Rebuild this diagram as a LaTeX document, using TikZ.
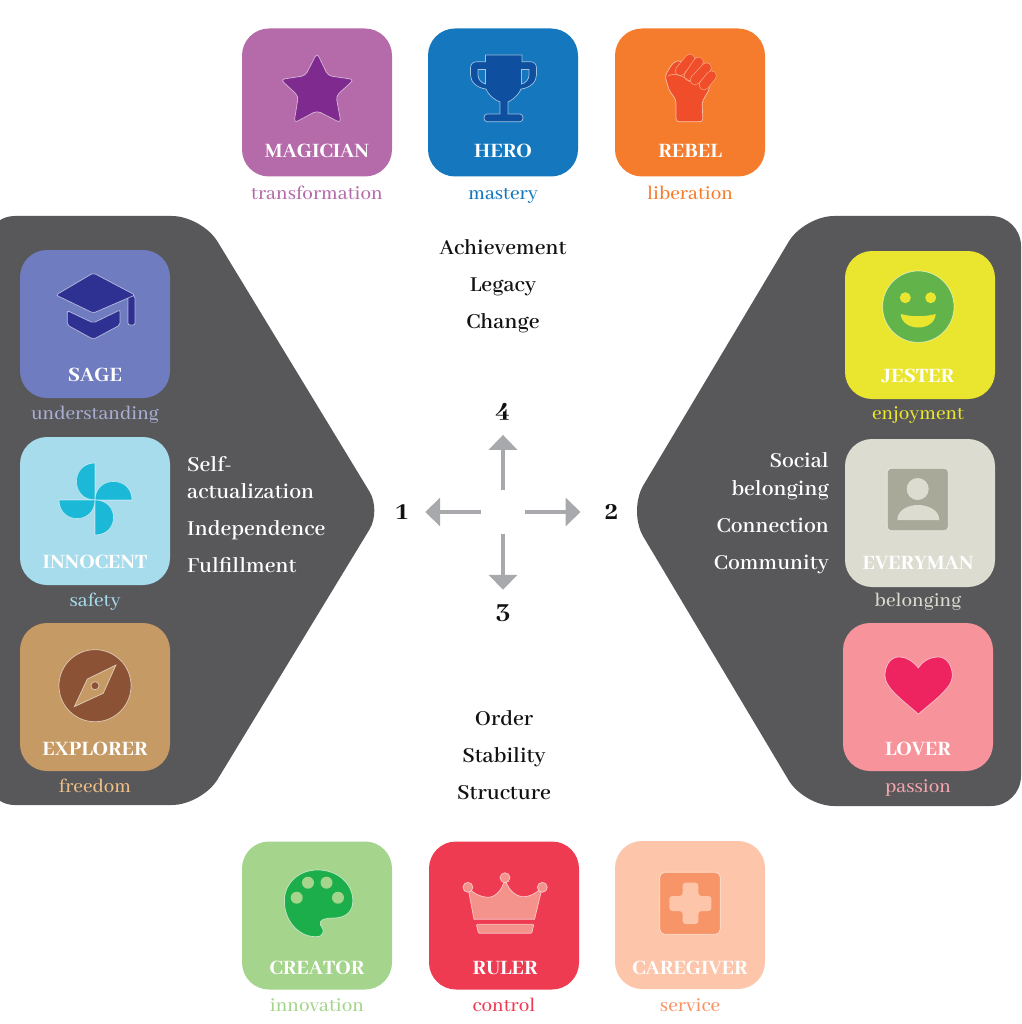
\documentclass[tikz,border=0pt]{standalone}
\usepackage{fontspec}
\setmainfont{Abhaya Libre}[BoldFont={Abhaya Libre ExtraBold}]
\newfontfamily\capfont{Abhaya Libre Medium}
\newfontfamily\wordfont{Abhaya Libre SemiBold}
\usepackage{tikz}
\usetikzlibrary{arrows.meta}

\definecolor{hexc}{HTML}{58585A}
\definecolor{arrc}{HTML}{A7A9AC}
\definecolor{inkc}{HTML}{111111}
\definecolor{magicc}{HTML}{B56BAA}
\definecolor{starc}{HTML}{7F2A8E}
\definecolor{heroc}{HTML}{1578BE}
\definecolor{cupc}{HTML}{0F4FA0}
\definecolor{rebelc}{HTML}{F57C2C}
\definecolor{fistc}{HTML}{F04E2B}
\definecolor{fistlinec}{HTML}{F8A47E}
\definecolor{sagec}{HTML}{6F7CBF}
\definecolor{sagecapc}{HTML}{A9AED3}
\definecolor{hatc}{HTML}{2E3192}
\definecolor{innoc}{HTML}{A6DCEC}
\definecolor{windc}{HTML}{1CB8D8}
\definecolor{explc}{HTML}{C69A64}
\definecolor{explcapc}{HTML}{EDBE85}
\definecolor{compc}{HTML}{8B5235}
\definecolor{jestc}{HTML}{EAE630}
\definecolor{facec}{HTML}{62B34A}
\definecolor{everyc}{HTML}{DCDDD0}
\definecolor{personc}{HTML}{A8A998}
\definecolor{lovec}{HTML}{F6939B}
\definecolor{lovecapc}{HTML}{F6A5AE}
\definecolor{heartc}{HTML}{EE2460}
\definecolor{creac}{HTML}{A5D48C}
\definecolor{palc}{HTML}{1BAE4B}
\definecolor{rulec}{HTML}{EF3B52}
\definecolor{crownc}{HTML}{F4938B}
\definecolor{carec}{HTML}{FDC6AB}
\definecolor{plusc}{HTML}{F79468}

\begin{document}
\begin{tikzpicture}[
  x=1pt, y=-1pt,
  hexa/.style={fill=hexc},
  tile/.style={
    rectangle, rounded corners=27pt, inner sep=0pt,
    minimum width=150pt, minimum height=148pt},
  tname/.style={
    anchor=base, text=white, inner sep=0pt,
    font=\fontsize{22.5}{26}\selectfont\bfseries},
  tcap/.style={
    anchor=base, inner sep=0pt,
    font=\fontsize{21}{25}\capfont},
  word/.style={
    anchor=base, text=inkc, inner sep=0pt,
    font=\fontsize{23.5}{27}\wordfont},
  lword/.style={
    anchor=base west, text=white, inner sep=0pt,
    font=\fontsize{23.5}{27}\wordfont},
  rword/.style={
    anchor=base east, text=white, inner sep=0pt,
    font=\fontsize{23.5}{27}\wordfont},
  digit/.style={
    rectangle, inner sep=0pt, minimum size=46pt, text=inkc,
    font=\fontsize{28}{32}\selectfont\bfseries},
  hub/.style={rectangle, inner sep=0pt, outer sep=0pt, minimum size=44pt},
  arr/.style={
    draw=arrc, line width=3.7pt,
    -{Triangle[length=15pt,width=28pt]}},
  icon/.style={draw=white, draw opacity=.6, line width=.7pt},
  finger/.style={
    draw=fistlinec, line width=.7pt, double=fistc,
    double distance=9pt, line cap=round},
]
\useasboundingbox (0,0) rectangle (1021,1024);

%% ---- Side panels ----
\fill[hexa, rounded corners=30] (-15,216) -- (202,216) [rounded corners=22] -- (381,510.5)
    [rounded corners=30] -- (202,805) -- (-15,805) -- cycle;
\fill[hexa, rounded corners=30] (1021,216) -- (804,216) -- (628,511)
    -- (804,806) -- (1021,806) -- cycle;

%% ---- Tiles ----
\node[tile, fill=magicc] (magician) at (317,102.5) {};
\node[tile, fill=heroc]  (hero)     at (503,102.5) {};
\node[tile, fill=rebelc] (rebel)    at (690,102.5) {};
\node[tile, fill=sagec]  (sage)     at (95,324)    {};
\node[tile, fill=innoc]  (innocent) at (95,511)    {};
\node[tile, fill=explc]  (explorer) at (95,697)    {};
\node[tile, fill=jestc]  (jester)   at (920,325)   {};
\node[tile, fill=everyc] (everyman) at (920,513)   {};
\node[tile, fill=lovec]  (lover)    at (918,697)   {};
\node[tile, fill=creac]  (creator)  at (317,915.5) {};
\node[tile, fill=rulec]  (ruler)    at (504,915.5) {};
\node[tile, fill=carec]  (caregiver) at (690,915)  {};

%% ---- Tile names ----
\node[tname] (magicianname)  at (317,157.7) {MAGICIAN};
\node[tname] (heroname)      at (503,157.7) {HERO};
\node[tname] (rebelname)     at (690,157.7) {REBEL};
\node[tname] (sagename)      at (95,381.7)  {SAGE};
\node[tname] (innocentname)  at (95,568.3)  {INNOCENT};
\node[tname] (explorername)  at (95,755)    {EXPLORER};
\node[tname] (jestername)    at (918,382.3) {JESTER};
\node[tname] (everymanname)  at (918,569)   {EVERYMAN};
\node[tname] (lovername)     at (918,755.7) {LOVER};
\node[tname] (creatorname)   at (317,974.3) {CREATOR};
\node[tname] (rulername)     at (505,974.3) {RULER};
\node[tname] (caregivername) at (690,974.3) {CAREGIVER};

%% ---- Tile captions ----
\node[tcap, text=magicc]   (magiciancap)  at (317,200)   {transformation};
\node[tcap, text=heroc]    (herocap)      at (503,200)   {mastery};
\node[tcap, text=rebelc]   (rebelcap)     at (690,200)   {liberation};
\node[tcap, text=sagecapc] (sagecap)      at (95,419)    {understanding};
\node[tcap, text=innoc]    (innocentcap)  at (95,606)    {safety};
\node[tcap, text=explcapc] (explorercap)  at (95,792)    {freedom};
\node[tcap, text=jestc]    (jestercap)    at (918,419.3) {enjoyment};
\node[tcap, text=everyc]   (everymancap)  at (918,606)   {belonging};
\node[tcap, text=lovecapc] (lovercap)     at (918,792)   {passion};
\node[tcap, text=creac]    (creatorcap)   at (317,1011)  {innovation};
\node[tcap, text=rulec]    (rulercap)     at (504,1011)  {control};
\node[tcap, text=plusc]    (caregivercap) at (690,1011)  {service};

%% ---- Words ----
\node[word] (achieve) at (503,254) {Achievement};
\node[word] (legacy)  at (503,291) {Legacy};
\node[word] (change)  at (503,328) {Change};
\node[word] (order)   at (504,725) {Order};
\node[word] (stable)  at (504,762) {Stability};
\node[word] (struct)  at (504,799) {Structure};

\node[lword] (self)    at (187,471) {Self-};
\node[lword] (actual)  at (187,498) {actualization};
\node[lword] (indep)   at (187,535) {Independence};
\node[lword] (fulfil)  at (187,572) {Fulfillment};

\node[rword] (social)  at (829,467.7) {Social};
\node[rword] (belong)  at (829,495)   {belonging};
\node[rword] (connect) at (829,532)   {Connection};
\node[rword] (commun)  at (829,569)   {Community};

%% ---- Centre arrows ----
\node[hub] (centre) at (503,512) {};
\node[digit] (n1) at (402,512) {1};
\node[digit, minimum width=62pt] (n2) at (611.7,512) {2};
\node[digit] (n3) at (503,613) {3};
\node[digit] (n4) at (503,411.7) {4};

\draw[arr] (centre.west)  -- (n1.east);
\draw[arr] (centre.east)  -- (n2.west);
\draw[arr] (centre.south) -- (n3.north);
\draw[arr] (centre.north) -- (n4.south);

%% ---- Icons, top row ----
\draw[icon, fill=starc, rounded corners=4] (317,53) -- (328,75.7) -- (354,79.5) -- (336,96)
    -- (341,123) -- (317,110.7) -- (294,123) -- (298.4,96) -- (280.6,79.5) -- (305.4,75.7) -- cycle;

\draw[icon, fill=cupc] (485.5,55) -- (522,55) -- (522,61.7) -- (530,61.7)
    .. controls (534,61.7) and (536.5,64) .. (536.5,68) -- (536.5,75)
    .. controls (536.5,82) and (530,88) .. (521,89)
    .. controls (518,96) and (512,100) .. (508,102) -- (508,114) -- (520,114)
    .. controls (524,114) and (524,121.7) .. (520,121.7) -- (487,121.7)
    .. controls (483,121.7) and (483,114) .. (487,114) -- (500,114) -- (500,102)
    .. controls (495,100) and (489,96) .. (486,89)
    .. controls (477,88) and (470.5,82) .. (470.5,75) -- (470.5,68)
    .. controls (470.5,64) and (473,61.7) .. (477,61.7) -- (485.5,61.7) -- cycle;
\draw[icon, fill=heroc] (478,69.5) -- (485.5,69.5) -- (485.5,84)
    .. controls (481,83) and (478,79) .. (478,75) -- cycle;
\draw[icon, fill=heroc] (529,69.5) -- (521.5,69.5) -- (521.5,84)
    .. controls (526,83) and (529,79) .. (529,75) -- cycle;

\draw[icon, fill=fistc, rounded corners=3] (676,121.7) -- (703,121.7) -- (702,102) -- (710,88)
    -- (700,72) -- (678,60) -- (672,64) -- (665,76) -- (669,90) -- (676,100) -- cycle;
\draw[finger] (680,71) -- (690,59);
\draw[finger] (689,76) -- (698.5,62);
\draw[finger] (695,80) -- (706.5,67.7);
\draw[finger] (704,85) -- (711.5,75.7);
\draw[draw=fistlinec, line width=.7pt] (668,76) .. controls (675,72) and (684,76) .. (690,82);

%% ---- Icons, left column ----
\draw[icon, fill=hatc, rounded corners=2] (128,293) -- (135,296) -- (135,325) -- (128,325) -- cycle;
\draw[icon, fill=hatc, rounded corners=2] (93.3,273) -- (135,295) -- (93.3,313) -- (56,295) -- cycle;
\draw[icon, fill=hatc, rounded corners=2] (67.3,310.7) -- (93.3,323) -- (120,310) -- (120,325)
    -- (93.3,339.3) -- (67.3,325) -- cycle;

\draw[icon, fill=windc] (95,463) .. controls (70.3,463) and (70.3,500) .. (95,500) -- cycle;
\draw[icon, fill=windc] (132,500) .. controls (132,475.3) and (95,475.3) .. (95,500) -- cycle;
\draw[icon, fill=windc] (95,535) .. controls (119.7,535) and (119.7,500) .. (95,500) -- cycle;
\draw[icon, fill=windc] (59,500) .. controls (59,524.7) and (95,524.7) .. (95,500) -- cycle;

\draw[icon, fill=compc] (95,685.7) circle [radius=36pt];
\draw[icon, fill=explc] (116,665) -- (103.3,693.3) -- (74.3,706.7) -- (87.3,679) -- cycle;
\draw[icon, fill=compc] (95,685.7) circle [radius=4pt];

%% ---- Icons, right column ----
\draw[icon, fill=facec] (918.3,306.7) circle [radius=35.7pt];
\fill[jestc] (905.3,297.7) circle [radius=5.5pt];
\fill[jestc] (930.7,297.7) circle [radius=5.5pt];
\fill[jestc] (900.7,314) .. controls (902,332) and (934.6,332) .. (935.7,314)
    .. controls (925,317) and (911,317) .. (900.7,314) -- cycle;

\draw[icon, fill=personc, rounded corners=4] (887.3,468.3) rectangle (948.3,530.7);
\fill[everyc] (917.7,489) circle [radius=11pt];
\fill[everyc] (897.3,520) .. controls (897.3,510) and (908,505) .. (918,505)
    .. controls (928,505) and (939.3,510) .. (939.3,520) -- cycle;

\draw[icon, fill=heartc] (918.3,668) .. controls (912,660) and (905,657) .. (899,657)
    .. controls (890,657) and (885,666) .. (885,676)
    .. controls (885,688) and (905,702) .. (918.3,714)
    .. controls (932,702) and (952.3,688) .. (952.3,676)
    .. controls (952.3,666) and (947,657) .. (938,657)
    .. controls (931,657) and (924,660) .. (918.3,668) -- cycle;

%% ---- Icons, bottom row ----
\draw[icon, fill=palc] (317.7,870) .. controls (338,870) and (352.8,884) .. (352.8,901)
    .. controls (352.8,912) and (345,918) .. (333.5,918)
    .. controls (325,918) and (318,920) .. (320.5,925)
    .. controls (325,930) and (324,936.7) .. (316,936.7)
    .. controls (298,936.7) and (284.4,920) .. (284.4,901)
    .. controls (284.4,884) and (298,870) .. (317.7,870) -- cycle;
\fill[creac] (308,882.7) circle [radius=6pt];
\fill[creac] (326.5,882.7) circle [radius=6pt];
\fill[creac] (296.7,897.7) circle [radius=6pt];
\fill[creac] (338,897.7) circle [radius=6pt];

\draw[icon, fill=crownc] (467.9,887.3) -- (473.9,919.3) -- (534.6,919.3) -- (542.3,887.3)
    .. controls (535,894) and (529,897) .. (523,896.7)
    .. controls (514,896) and (507,888) .. (505,877.7)
    .. controls (503,888) and (497,897) .. (488,897.3)
    .. controls (481,897) and (474,894) .. (467.9,887.3) -- cycle;
\draw[icon, fill=crownc] (467.9,887.3) circle [radius=5pt];
\draw[icon, fill=crownc] (505,877.7) circle [radius=5pt];
\draw[icon, fill=crownc] (542.3,887.3) circle [radius=5pt];
\draw[icon, fill=crownc, rounded corners=1] (476.3,924.3) -- (533.9,924.3) -- (531.8,933.3) -- (478.4,933.3) -- cycle;

\draw[icon, fill=plusc, rounded corners=5] (659.8,872.3) rectangle (720.2,934.3);
\fill[carec, rounded corners=3] (682.6,882.7) -- (698.4,882.7) -- (698.4,896) -- (711.4,896)
    -- (711.4,911) -- (698.4,911) -- (698.4,924) -- (682.6,924) -- (682.6,911) -- (669.3,911)
    -- (669.3,896) -- (682.6,896) -- cycle;

\end{tikzpicture}
\end{document}
